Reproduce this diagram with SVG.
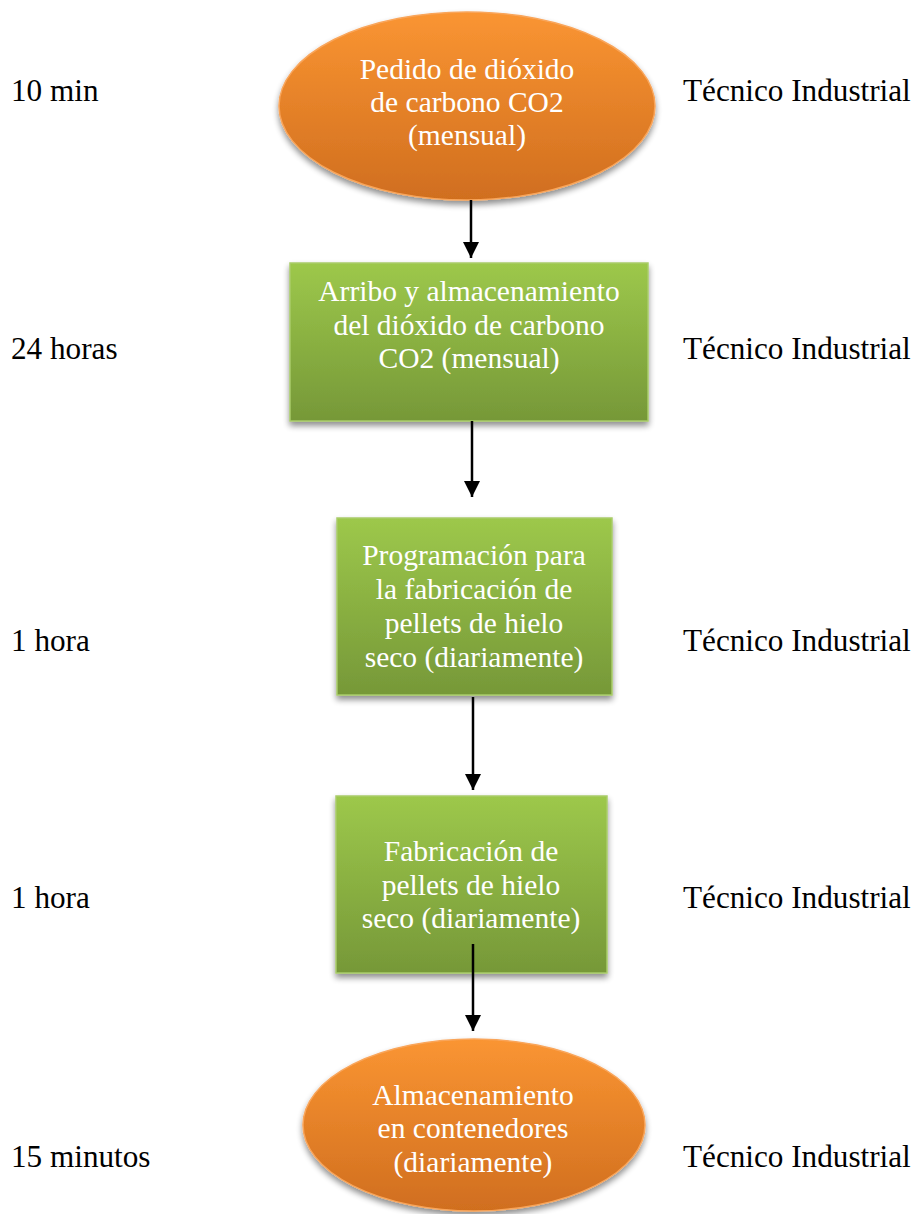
<svg xmlns="http://www.w3.org/2000/svg" width="918" height="1214" viewBox="0 0 918 1214">
  <style>
    .side { font-family: "Liberation Serif", "Times New Roman", serif; font-size: 31.2px; fill: #000; }
    .lbl { font-family: "Liberation Serif", "Times New Roman", serif; font-size: 29.5px; fill: #fff; text-anchor: middle; }
    .oval { fill: url(#orangeGrad); stroke: #f9a55a; stroke-width: 1.5; filter: url(#shadow); }
    .box { fill: url(#greenGrad); stroke: #a9cc6a; stroke-width: 1.5; filter: url(#shadow); }
    .conn { stroke: #000; stroke-width: 2.5; fill: none; marker-end: url(#arrow); }
  </style>
  <defs>
    <linearGradient id="orangeGrad" x1="0" y1="0" x2="0" y2="1">
      <stop offset="0" stop-color="#fa9532"/>
      <stop offset="1" stop-color="#d06e1f"/>
    </linearGradient>
    <linearGradient id="greenGrad" x1="0" y1="0" x2="0" y2="1">
      <stop offset="0" stop-color="#9dc84b"/>
      <stop offset="1" stop-color="#769838"/>
    </linearGradient>
    <filter id="shadow" x="-10%" y="-10%" width="120%" height="130%">
      <feGaussianBlur in="SourceAlpha" stdDeviation="3"/>
      <feOffset dx="0" dy="4" result="b"/>
      <feComponentTransfer><feFuncA type="linear" slope="0.45"/></feComponentTransfer>
      <feMerge><feMergeNode/><feMergeNode in="SourceGraphic"/></feMerge>
    </filter>
    <marker id="arrow" viewBox="0 0 16 16" refX="16" refY="8" markerWidth="16" markerHeight="16" markerUnits="userSpaceOnUse" orient="auto">
      <path d="M0,0 L16,8 L0,16 Z" fill="#000"/>
    </marker>
  </defs>

  <rect width="918" height="1214" fill="#fff"/>

  <!-- step 1 -->
  <g id="n1">
    <ellipse class="oval" cx="467" cy="106" rx="188" ry="94"/>
    <text class="lbl" x="467" y="79">Pedido de dióxido</text>
    <text class="lbl" x="467" y="112">de carbono CO2</text>
    <text class="lbl" x="467" y="145">(mensual)</text>
  </g>

  <!-- step 2 -->
  <g id="n2">
    <rect class="box" x="290" y="263" width="358" height="158"/>
    <text class="lbl" x="469" y="301">Arribo y almacenamiento</text>
    <text class="lbl" x="469" y="335">del dióxido de carbono</text>
    <text class="lbl" x="469" y="368">CO2 (mensual)</text>
  </g>

  <!-- step 3 -->
  <g id="n3">
    <rect class="box" x="337" y="518" width="275" height="177"/>
    <text class="lbl" x="474" y="565">Programación para</text>
    <text class="lbl" x="474" y="599">la fabricación de</text>
    <text class="lbl" x="474" y="633">pellets de hielo</text>
    <text class="lbl" x="474" y="667">seco (diariamente)</text>
  </g>

  <!-- step 4 -->
  <g id="n4">
    <rect class="box" x="336" y="796" width="271" height="177"/>
    <text class="lbl" x="471" y="861">Fabricación de</text>
    <text class="lbl" x="471" y="895">pellets de hielo</text>
    <text class="lbl" x="471" y="928">seco (diariamente)</text>
  </g>

  <!-- step 5 -->
  <g id="n5">
    <ellipse class="oval" cx="474" cy="1125" rx="171" ry="86"/>
    <text class="lbl" x="473" y="1105">Almacenamiento</text>
    <text class="lbl" x="473" y="1138">en contenedores</text>
    <text class="lbl" x="473" y="1172">(diariamente)</text>
  </g>

  <!-- connectors drawn over the nodes -->
  <g id="connectors">
    <line class="conn" x1="471" y1="200" x2="471" y2="258"/>
    <line class="conn" x1="472" y1="421" x2="472" y2="497"/>
    <line class="conn" x1="473" y1="697" x2="473" y2="790"/>
    <line class="conn" x1="473" y1="944" x2="473" y2="1031"/>
  </g>

  <!-- durations -->
  <g id="durations">
    <text class="side" x="11" y="101">10 min</text>
    <text class="side" x="11" y="359">24 horas</text>
    <text class="side" x="11" y="651">1 hora</text>
    <text class="side" x="11" y="908">1 hora</text>
    <text class="side" x="11" y="1167">15 minutos</text>
  </g>

  <!-- responsible -->
  <g id="roles">
    <text class="side" x="683" y="101">Técnico Industrial</text>
    <text class="side" x="683" y="359">Técnico Industrial</text>
    <text class="side" x="683" y="651">Técnico Industrial</text>
    <text class="side" x="683" y="908">Técnico Industrial</text>
    <text class="side" x="683" y="1167">Técnico Industrial</text>
  </g>
</svg>
